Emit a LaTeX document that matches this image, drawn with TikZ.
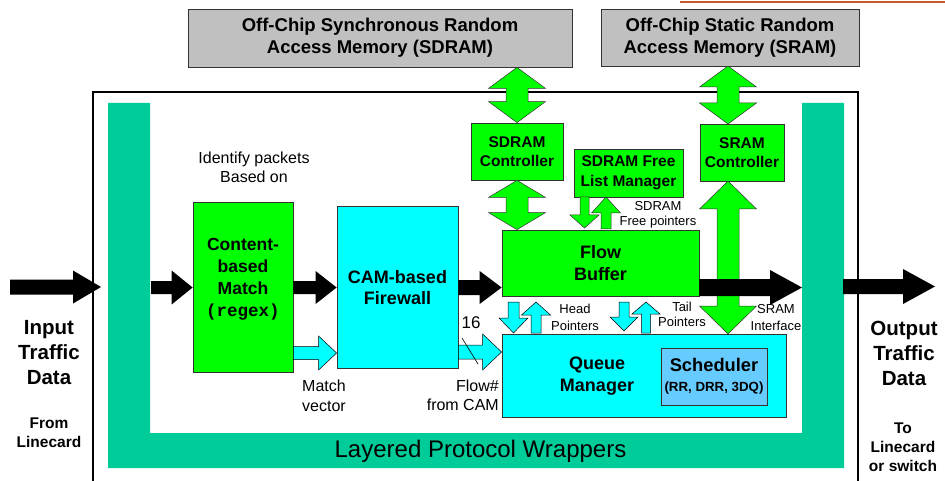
\documentclass[tikz,border=0pt]{standalone}
\usepackage{fontspec}
\setmainfont{Liberation Sans}
\newfontfamily\monob{Liberation Mono}
\usetikzlibrary{calc}
\definecolor{gr}{HTML}{00FF00}
\definecolor{cy}{HTML}{00FFFF}
\definecolor{teal2}{HTML}{00CC99}
\definecolor{grayb}{HTML}{C0C0C0}
\definecolor{sched}{HTML}{66CCFF}
\definecolor{orl}{HTML}{C55A28}
\newcommand\fs[2]{\fontsize{#1}{#2}\selectfont}
% horizontal arrow to the right: style, from, tip, shaft half, head half, head length
\newcommand\harr[6]{\filldraw[#1] ($(#2)+(0,-#4)$) -- ($(#3)+(-#6,-#4)$) -- ($(#3)+(-#6,-#5)$) -- (#3) -- ($(#3)+(-#6,#5)$) -- ($(#3)+(-#6,#4)$) -- ($(#2)+(0,#4)$) -- cycle;}
% downward arrow: style, top, tip
\newcommand\darr[6]{\filldraw[#1] ($(#2)+(-#4,0)$) -- ($(#3)+(-#4,-#6)$) -- ($(#3)+(-#5,-#6)$) -- (#3) -- ($(#3)+(#5,-#6)$) -- ($(#3)+(#4,-#6)$) -- ($(#2)+(#4,0)$) -- cycle;}
% upward arrow: style, bottom, tip
\newcommand\uarr[6]{\filldraw[#1] ($(#2)+(-#4,0)$) -- ($(#3)+(-#4,#6)$) -- ($(#3)+(-#5,#6)$) -- (#3) -- ($(#3)+(#5,#6)$) -- ($(#3)+(#4,#6)$) -- ($(#2)+(#4,0)$) -- cycle;}
% vertical double arrow: style, top tip, bottom tip
\newcommand\vdarr[6]{\filldraw[#1] (#2) -- ($(#2)+(#5,#6)$) -- ($(#2)+(#4,#6)$) -- ($(#3)+(#4,-#6)$) -- ($(#3)+(#5,-#6)$) -- (#3) -- ($(#3)+(-#5,-#6)$) -- ($(#3)+(-#4,-#6)$) -- ($(#2)+(-#4,#6)$) -- ($(#2)+(-#5,#6)$) -- cycle;}
\begin{document}
\begin{tikzpicture}[x=1pt,y=-1pt,
 box/.style={draw=black!80,line width=0.8pt,inner sep=0pt,align=center,font=\bfseries},
 txt/.style={inner sep=0pt,align=center},
 blk/.style={fill=black,draw=none},
 cyn/.style={fill=cy,draw=black,line width=0.5pt},
 grn/.style={fill=gr,draw=black!80,line width=0.5pt}]
\useasboundingbox (0,0) rectangle (945,481);
\fill[white] (0,0) rectangle (945,481);
\draw[orl,line width=1.2pt] (680,2) -- (945,2);
\draw[line width=2pt] (93,481) -- (93,92) -- (858,92) -- (858,481);
\fill[teal2] (108,103) -- (108,468) -- (844,468) -- (844,103) -- (802,103) -- (802,433) -- (150,433) -- (150,103) -- cycle;

\node[box,fill=grayb,minimum width=384pt,minimum height=58pt,font=\bfseries\fs{18.5}{22}] (sdramm) at (380,38) {Off-Chip Synchronous Random\\Access Memory (SDRAM)};
\node[box,fill=grayb,minimum width=258pt,minimum height=57pt,font=\bfseries\fs{18.5}{22}] (sramm) at (730,37.5) {Off-Chip Static Random\\Access Memory (SRAM)};
\node[box,fill=gr,minimum width=92pt,minimum height=57pt,font=\bfseries\fs{15.5}{19}] (sdc) at (517,151.5) {SDRAM\\Controller};
\node[box,fill=gr,minimum width=109pt,minimum height=48pt,font=\bfseries\fs{15.5}{20}] (fl) at (628.5,173) {SDRAM Free\\List Manager};
\node[box,fill=gr,minimum width=84pt,minimum height=57pt,font=\bfseries\fs{15.5}{19}] (src) at (742,152.5) {SRAM\\Controller};
\node[box,fill=gr,minimum width=100pt,minimum height=170pt] (cbm) at (243,287.5) {};
\node[txt,font=\bfseries\fs{17.5}{22}] (cbmt) at (243,279) {Content-\\based\\Match\\{\monob\bfseries (regex)}};
\node[box,fill=cy,minimum width=121pt,minimum height=162pt,font=\bfseries\fs{18}{21}] (cam) at (397.5,287.5) {CAM-based\\Firewall};
\node[box,fill=gr,minimum width=197pt,minimum height=66pt,font=\bfseries\fs{18}{22}] (fb) at (600.5,263) {Flow\\Buffer};
\node[box,fill=cy,minimum width=284pt,minimum height=83pt] (qm) at (644,375.5) {};
\node[txt,font=\bfseries\fs{18}{22}] (qmt) at (597,376) {Queue\\Manager};
\node[box,fill=sched,minimum width=106pt,minimum height=57pt,font=\bfseries\fs{18.3}{20}] (sch) at (714,376.5) {Scheduler\\{\fs{13.3}{16}(RR, DRR, 3DQ)}};

\node[txt,font=\bfseries\fs{20.5}{25}] (inp) at (49,353) {Input\\Traffic\\Data};
\node[txt,font=\bfseries\fs{15.5}{19}] (frm) at (49,432.5) {From\\Linecard};
\node[txt,font=\bfseries\fs{20.5}{25}] (outp) at (904,353) {Output\\Traffic\\Data};
\node[txt,font=\bfseries\fs{15.5}{19}] (to) at (903,447) {To\\Linecard\\or switch};
\node[txt,font=\fs{16}{19}] (ident) at (254,167.5) {Identify packets\\Based on};
\node[txt,align=left,anchor=west,font=\fs{16}{20}] (mvt) at (302,396) {Match\\vector};
\node[txt,align=right,anchor=east,font=\fs{16}{19}] (fnt) at (499,395.5) {Flow\#\\from CAM};
\node[txt,font=\fs{17}{20}] (n16) at (471,323) {16};
\node[txt,font=\fs{13}{15}] (sfp) at (658,214.5) {SDRAM\\Free pointers};
\node[txt,font=\fs{13}{16.5}] (hp) at (575,317.5) {Head\\Pointers};
\node[txt,font=\fs{13}{15}] (tp) at (682,314.5) {Tail\\Pointers};
\node[txt,font=\fs{13}{17}] (si) at (776,317.5) {SRAM\\Interface};
\node[txt,font=\fs{24}{28}] (lpw) at (480.5,451) {Layered Protocol Wrappers};

% connector end points
\coordinate (inA) at (10,287);
\coordinate (inB) at (101,287);
\coordinate (a2s) at (151,287.5);
\coordinate (fbin) at (fb.west |- cam.east);
\coordinate (fbout) at (fb.east |- cam.east);
\coordinate (wrR) at (802,287.5);
\coordinate (outA) at (843,286.5);
\coordinate (outB) at (935,286.5);
\coordinate (mvs) at (cbm.east |- 0,353);
\coordinate (mve) at (cam.west |- 0,353);
\coordinate (fns) at (cam.east |- 0,352);
\coordinate (fne) at (qm.west |- 0,352);
\coordinate (sdt) at (sdc.north |- sdramm.south);
\coordinate (sdb) at (sdc.south |- fb.north);
\coordinate (srt) at (728,66);
\coordinate (srm) at (728,124);
\coordinate (srl) at (728,181);
\coordinate (srq) at (728,334);
\coordinate (fld1) at (584.5,197);
\coordinate (fld2) at (584.5,228);
\coordinate (flu1) at (606,229);
\coordinate (flu2) at (606,197);
\coordinate (hd1) at (513.5,302);
\coordinate (hd2) at (513.5,333);
\coordinate (hu1) at (536,333);
\coordinate (hu2) at (536,302);
\coordinate (td1) at (624,302);
\coordinate (td2) at (624,331);
\coordinate (tu1) at (646,333);
\coordinate (tu2) at (646,302);

% green arrows
\vdarr{grn}{sdt}{sdc.north}{11}{28.5}{21}
\vdarr{grn}{sdc.south}{sdb}{11}{28.5}{17}
\vdarr{grn}{srt}{srm}{11}{28.5}{21}
\vdarr{grn}{srl}{srq}{11}{28.5}{28}
\darr{grn}{fld1}{fld2}{4.5}{14.5}{13}
\uarr{grn}{flu1}{flu2}{5}{14.5}{16}
% cyan arrows
\harr{cyn}{mvs}{mve}{6.5}{17}{18}
\harr{cyn}{fns}{fne}{7}{18}{19}
\darr{cyn}{hd1}{hd2}{5.5}{14.5}{15}
\uarr{cyn}{hu1}{hu2}{5}{14.5}{13}
\darr{cyn}{td1}{td2}{5}{14}{14}
\uarr{cyn}{tu1}{tu2}{4.5}{14}{12}
% black data path arrows
\harr{blk}{inA}{inB}{7.5}{16.5}{28}
\harr{blk}{a2s}{cbm.west}{6.5}{17}{21}
\harr{blk}{cbm.east}{cam.west}{6.5}{16.5}{21}
\harr{blk}{cam.east}{fbin}{7.5}{16.5}{22}
\harr{blk}{fbout}{wrR}{8.5}{17.5}{32}
\harr{blk}{outA}{outB}{7.5}{17.5}{32}
% bus width mark
\draw[line width=0.6pt] (462,338) -- (478,364);
\end{tikzpicture}
\end{document}
